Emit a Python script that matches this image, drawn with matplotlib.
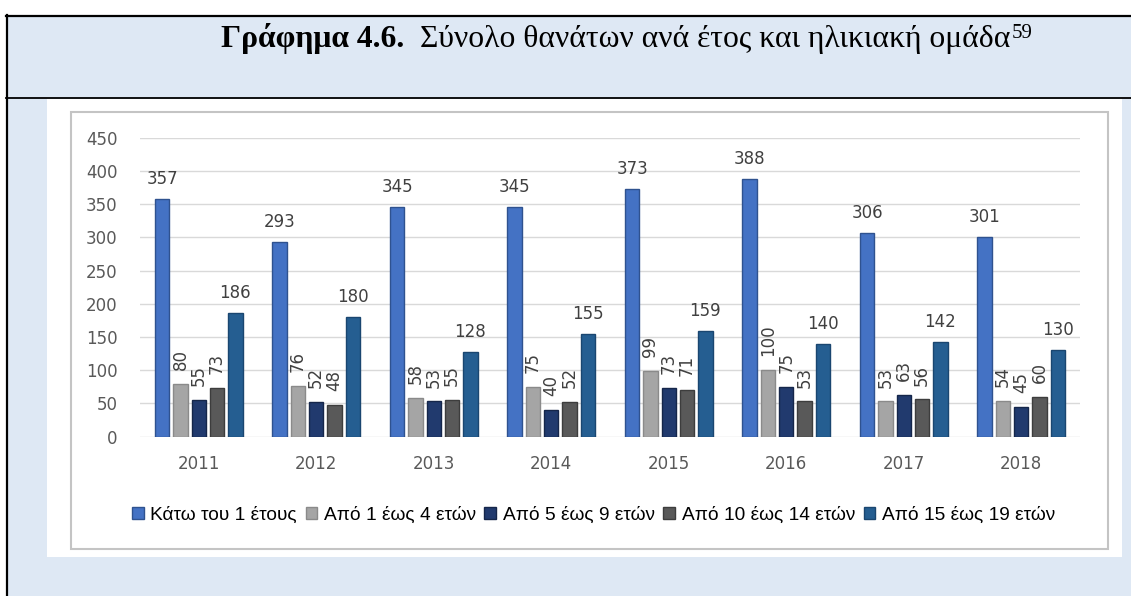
import matplotlib.pyplot as plt
import numpy as np
from matplotlib.patches import Rectangle, Patch
from matplotlib.lines import Line2D

W, H = 1131, 596

years = ['2011', '2012', '2013', '2014', '2015', '2016', '2017', '2018']
under_1 = [357, 293, 345, 345, 373, 388, 306, 301]
age_1_4 = [80, 76, 58, 75, 99, 100, 53, 54]
age_5_9 = [55, 52, 53, 40, 73, 75, 63, 45]
age_10_14 = [73, 48, 55, 52, 71, 53, 56, 60]
age_15_19 = [186, 180, 128, 155, 159, 140, 142, 130]

series_names = ['Κάτω του 1 έτους', 'Από 1 έως 4 ετών', 'Από 5 έως 9 ετών',
                'Από 10 έως 14 ετών', 'Από 15 έως 19 ετών']
colors = ['#4472c4', '#a5a5a5', '#213a6e', '#595959', '#255e91']
edges = ['#2f528f', '#8a8a8a', '#15264a', '#3d3d3d', '#1a4670']


def fx(px):
    return px / W


def fy(py):
    return 1 - py / H


fig = plt.figure(figsize=(W / 100, H / 100), dpi=100)
fig.patch.set_facecolor('#dee8f4')

# white margins, chart area and frame (kept below the axes)
fig.patches.append(Rectangle((0, fy(15.5)), 1, 15.5 / H, transform=fig.transFigure,
                             facecolor='white', edgecolor='none', zorder=-3))
fig.patches.append(Rectangle((0, 0), fx(6), 1, transform=fig.transFigure,
                             facecolor='white', edgecolor='none', zorder=-3))
fig.patches.append(Rectangle((fx(47), fy(557)), fx(1122) - fx(47), (557 - 99) / H,
                             transform=fig.transFigure, facecolor='white',
                             edgecolor='none', zorder=-3))
fig.patches.append(Rectangle((fx(71), fy(549)), fx(1107.5) - fx(71), (549 - 111.5) / H,
                             transform=fig.transFigure, facecolor='white',
                             edgecolor='#c4c4c4', lw=1.5, zorder=-2))
fig.lines.append(Line2D([fx(6), 1], [fy(15.7), fy(15.7)], transform=fig.transFigure,
                        color='black', lw=1.6))
fig.lines.append(Line2D([fx(6.7), fx(6.7)], [fy(15), 0], transform=fig.transFigure,
                        color='black', lw=1.6))
fig.lines.append(Line2D([fx(6), 1], [fy(98.3), fy(98.3)], transform=fig.transFigure,
                        color='black', lw=1.3))

ax = fig.add_axes([fx(140), fy(436.7), fx(1080) - fx(140), (436.7 - 137.7) / H])
ax.set_facecolor('none')

data = [under_1, age_1_4, age_5_9, age_10_14, age_15_19]
x = np.arange(len(years))
step = 0.156
width = 0.123
for j, vals in enumerate(data):
    pos = x + (j - 2) * step
    ax.bar(pos, vals, width, color=colors[j], edgecolor=edges[j], lw=1, zorder=3)
    for p, v in zip(pos, vals):
        if j in (1, 2, 3):
            ax.annotate(str(v), (p, v), xytext=(0, 10), textcoords='offset points',
                        ha='center', va='bottom', rotation=90, fontsize=12,
                        color='#404040')
        else:
            ax.annotate(str(v), (p, v), xytext=(0, 8), textcoords='offset points',
                        ha='center', va='bottom', fontsize=12, color='#404040')

ax.set_xlim(-0.5, len(years) - 0.5)
ax.set_ylim(0, 450)
ax.set_yticks(range(0, 451, 50))
ax.set_xticks(x)
ax.set_xticklabels(years)
ax.grid(axis='y', color='#d9d9d9', lw=1, zorder=0)
for s in ax.spines.values():
    s.set_visible(False)
ax.tick_params(axis='y', length=0, pad=16, labelsize=12, labelcolor='#595959')
ax.tick_params(axis='x', length=0, pad=13, labelsize=12, labelcolor='#595959')

handles = [Patch(facecolor=colors[j], edgecolor=edges[j]) for j in range(5)]
fig.legend(handles, series_names, loc='center', bbox_to_anchor=(fx(593.5), fy(515.5)),
           ncol=5, frameon=False, handlelength=0.6, handleheight=0.6,
           handletextpad=0.35, columnspacing=0.45,
           prop={'family': 'Liberation Sans', 'size': 13.8})

# title: bold part, normal part, superscript
t1 = fig.text(fx(220.7), fy(47.5), 'Γράφημα 4.6.', family='Liberation Serif',
              weight='bold', fontsize=22.8, va='baseline', ha='left')
fig.canvas.draw()
r = fig.canvas.get_renderer()
e1 = t1.get_window_extent(r)
t2 = fig.text((e1.x1 + 16) / W, fy(47.5), 'Σύνολο θανάτων ανά έτος και ηλικιακή ομάδα',
              family='Liberation Serif', fontsize=22.8, va='baseline', ha='left')
e2 = t2.get_window_extent(r)
fig.text((e2.x1 + 1) / W, fy(37.5), '59', family='Liberation Serif', fontsize=15,
         va='baseline', ha='left')

fig.savefig('out.png', dpi=100, facecolor=fig.get_facecolor())
